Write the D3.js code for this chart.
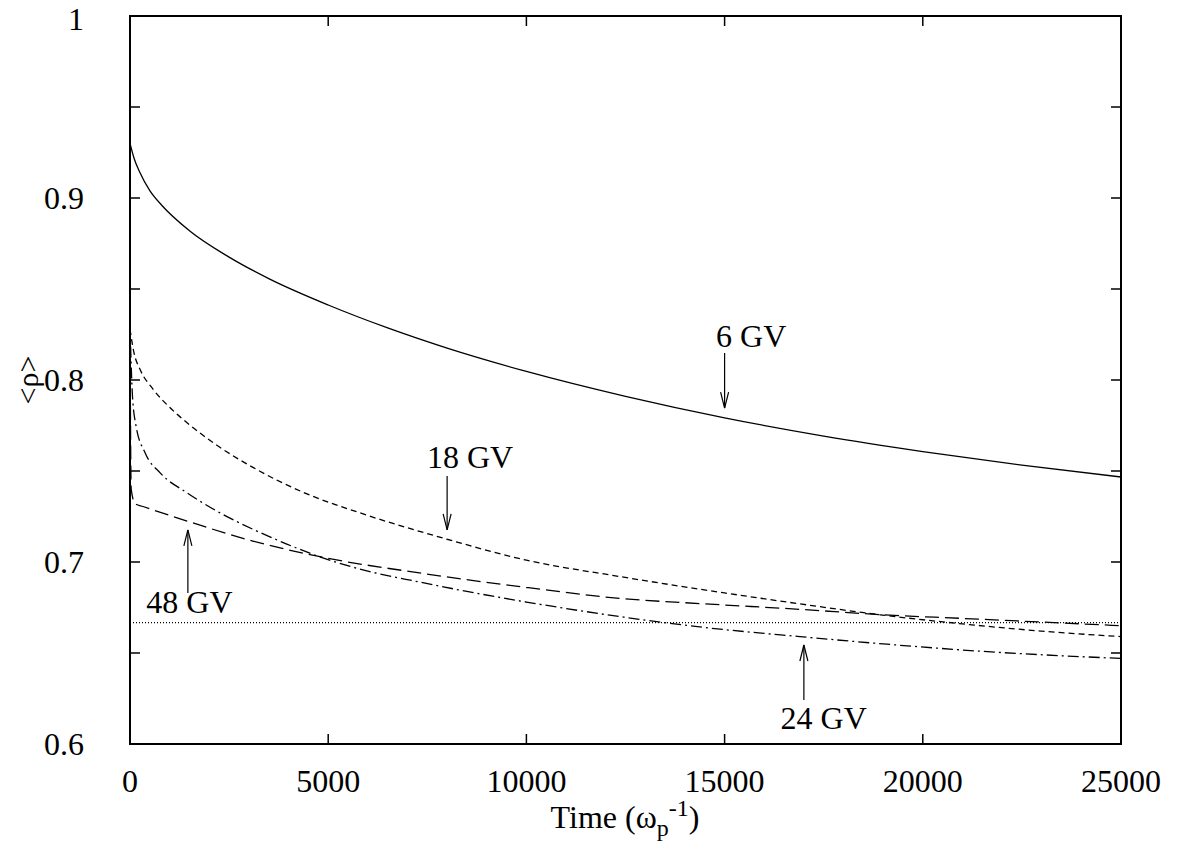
<!DOCTYPE html>
<html>
<head>
<meta charset="utf-8">
<script src="https://cdn.jsdelivr.net/npm/d3@7"></script>
<style>
  body { margin: 0; background: #fff; }
  text { font-family: "Liberation Serif", "Times New Roman", serif; fill: #000; }
</style>
</head>
<body>
<div id="chart"></div>
<script>
// time values (omega_p^-1) and <rho> readings per series
const t6  = [0, 100, 250, 500, 800, 1500, 2500, 3500, 5000, 6500, 8000, 10000, 12500, 15000, 17500, 20000, 22500, 25000];
const r6  = [0.930, 0.922, 0.914, 0.904, 0.896, 0.882, 0.8675, 0.8557, 0.8412, 0.8286, 0.8175, 0.8047, 0.791, 0.7792, 0.7692, 0.7607, 0.7532, 0.7467];

const t18 = [0, 100, 250, 580, 1000, 1440, 2200, 3100, 4400, 5800, 8000, 10000, 12360, 15000, 16900, 18920, 21000, 23000, 25000];
const r18 = [0.828, 0.815, 0.806, 0.795, 0.785, 0.7765, 0.764, 0.752, 0.738, 0.727, 0.7125, 0.701, 0.692, 0.683, 0.677, 0.671, 0.666, 0.662, 0.659];

const t24 = [0, 60, 150, 380, 760, 1440, 2270, 3100, 3940, 4900, 6000, 7300, 8700, 10000, 12360, 14500, 16900, 19000, 21440, 25000];
const r24 = [0.830, 0.792, 0.775, 0.760, 0.749, 0.738, 0.727, 0.718, 0.710, 0.702, 0.695, 0.689, 0.683, 0.678, 0.670, 0.664, 0.659, 0.655, 0.651, 0.647];

const t48 = [0, 30, 130, 330, 1440, 3100, 5000, 7300, 10000, 12360, 14500, 16900, 19000, 21000, 23000, 25000];
const r48 = [0.830, 0.740, 0.732, 0.7305, 0.7225, 0.7115, 0.702, 0.694, 0.686, 0.680, 0.677, 0.674, 0.671, 0.669, 0.667, 0.665];

const limitRho = 2 / 3;

const xTicks = [0, 5000, 10000, 15000, 20000, 25000];
const yTicksMajor = [0.6, 0.7, 0.8, 0.9, 1];
const yTicksAll = [0.6, 0.65, 0.7, 0.75, 0.8, 0.85, 0.9, 0.95, 1];

// labels: [text, label t, label rho, arrow t, tail rho, head rho]
const labels = [
  ["6 GV", 15670, 0.8180, 15000, 0.8148, 0.7846],
  ["18 GV", 8580, 0.7516, 8000, 0.7473, 0.7176],
  ["48 GV", 1500, 0.6720, 1460, 0.6830, 0.7176],
  ["24 GV", 17500, 0.6085, 17000, 0.6242, 0.6544]
];

const W = 1186, H = 854;
const svg = d3.select("#chart").append("svg")
    .attr("width", W)
    .attr("height", H);

const x = d3.scaleLinear().domain([0, 25000]).range([130, 1121]);
const y = d3.scaleLinear().domain([0.6, 1]).range([744, 16]);

const fs = 32;

// frame
svg.append("rect")
    .attr("x", x(0)).attr("y", y(1))
    .attr("width", x(25000) - x(0)).attr("height", y(0.6) - y(1))
    .attr("fill", "none").attr("stroke", "#000").attr("stroke-width", 2);

// ticks (inward, all four sides)
const tl = 10;
svg.selectAll(".xt").data(xTicks).enter().append("line")
    .attr("x1", d => x(d)).attr("x2", d => x(d))
    .attr("y1", y(0.6)).attr("y2", y(0.6) - tl)
    .attr("stroke", "#000").attr("stroke-width", 1.5);
svg.selectAll(".xtt").data(xTicks).enter().append("line")
    .attr("x1", d => x(d)).attr("x2", d => x(d))
    .attr("y1", y(1)).attr("y2", y(1) + tl)
    .attr("stroke", "#000").attr("stroke-width", 1.5);
svg.selectAll(".yt").data(yTicksAll).enter().append("line")
    .attr("x1", x(0)).attr("x2", x(0) + tl)
    .attr("y1", d => y(d)).attr("y2", d => y(d))
    .attr("stroke", "#000").attr("stroke-width", 1.5);
svg.selectAll(".ytr").data(yTicksAll).enter().append("line")
    .attr("x1", x(25000)).attr("x2", x(25000) - tl)
    .attr("y1", d => y(d)).attr("y2", d => y(d))
    .attr("stroke", "#000").attr("stroke-width", 1.5);

// tick labels
svg.selectAll(".xl").data(xTicks).enter().append("text")
    .attr("x", d => x(d)).attr("y", 792)
    .attr("text-anchor", "middle")
    .style("font-size", fs + "px")
    .text(d => d);
svg.selectAll(".yl").data(yTicksMajor).enter().append("text")
    .attr("x", 84).attr("y", d => Math.max(y(d) + 11, 30))
    .attr("text-anchor", "end")
    .style("font-size", fs + "px")
    .text(d => d === 1 ? "1" : d.toFixed(1));

// axis titles
const xt = svg.append("text")
    .attr("x", 625).attr("y", 828)
    .attr("text-anchor", "middle")
    .style("font-size", fs + "px");
xt.append("tspan").text("Time (ω");
xt.append("tspan").attr("dy", 8).style("font-size", "24px").text("p");
xt.append("tspan").attr("dy", -20).style("font-size", "24px").text("-1");
xt.append("tspan").attr("dy", 12).text(")");

svg.append("text")
    .attr("transform", "translate(38,380) rotate(-90)")
    .attr("text-anchor", "middle")
    .style("font-size", "30px")
    .text("<ρ>");

// curves
const line = d3.line()
    .x(d => x(d[0]))
    .y(d => y(d[1]))
    .curve(d3.curveMonotoneX);

const series = [
  [t6, r6, null],
  [t18, r18, "6,4"],
  [t24, r24, "11,4,2,4"],
  [t48, r48, "14,6"]
];
series.forEach(([ts, rs, dash]) => {
  svg.append("path")
      .datum(d3.zip(ts, rs))
      .attr("d", line)
      .attr("fill", "none")
      .attr("stroke", "#000")
      .attr("stroke-width", 1.3)
      .attr("stroke-dasharray", dash);
});

// limit line 2/3
svg.append("line")
    .attr("x1", x(0)).attr("x2", x(25000))
    .attr("y1", y(limitRho)).attr("y2", y(limitRho))
    .attr("stroke", "#000").attr("stroke-width", 1.2)
    .attr("stroke-dasharray", "1,2");

// annotations with open arrow heads
labels.forEach(([txt, lt, lr, at, r0, r1]) => {
  const ax = x(at), y0 = y(r0), y1 = y(r1);
  const dir = y1 > y0 ? 1 : -1;
  svg.append("line")
      .attr("x1", ax).attr("x2", ax).attr("y1", y0).attr("y2", y1)
      .attr("stroke", "#000").attr("stroke-width", 1.2);
  svg.append("path")
      .attr("d", `M${ax - 4},${y1 - dir * 16} L${ax},${y1} L${ax + 4},${y1 - dir * 16}`)
      .attr("fill", "none").attr("stroke", "#000").attr("stroke-width", 1.2);
  svg.append("text")
      .attr("x", x(lt)).attr("y", y(lr))
      .attr("text-anchor", "middle")
      .style("font-size", fs + "px")
      .text(txt);
});
</script>
</body>
</html>
